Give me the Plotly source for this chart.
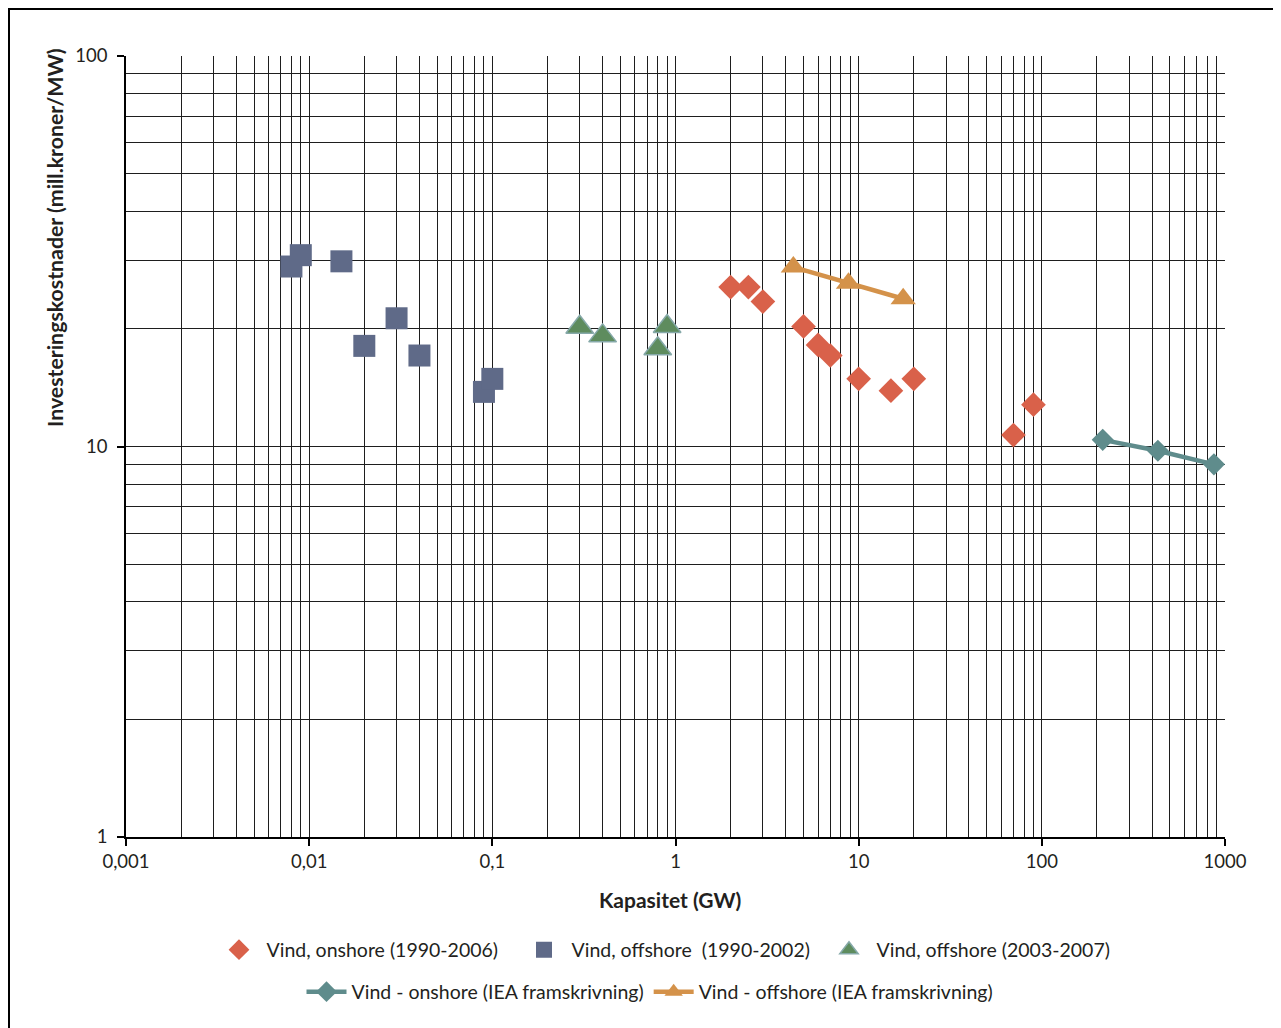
import plotly.graph_objects as go

# ---------------- data ----------------
on_hist_x = [2, 2.5, 3, 5, 6, 7, 10, 15, 20, 70, 90]
on_hist_y = [25.6, 25.6, 23.5, 20.3, 18.2, 17.1, 14.9, 13.9, 14.9, 10.7, 12.8]

off_old_x = [0.008, 0.009, 0.015, 0.02, 0.03, 0.04, 0.09, 0.1]
off_old_y = [28.9, 30.9, 29.8, 18.1, 21.3, 17.1, 13.8, 14.9]

off_new_x = [0.3, 0.4, 0.8, 0.9]
off_new_y = [20.2, 19.2, 17.8, 20.3]

iea_on_x = [215, 430, 870]
iea_on_y = [10.4, 9.75, 9.0]

iea_off_x = [4.4, 8.8, 17.5]
iea_off_y = [28.8, 26.2, 23.9]

x_tickvals = [0.001, 0.01, 0.1, 1, 10, 100, 1000]
x_ticktext = ["0,001", "0,01", "0,1", "1", "10", "100", "1000"]
y_tickvals = [1, 10, 100]
y_ticktext = ["1", "10", "100"]

names = [
    "Vind, onshore (1990-2006)",
    "Vind, offshore  (1990-2002)",
    "Vind, offshore (2003-2007)",
    "Vind - onshore (IEA framskrivning)",
    "Vind - offshore (IEA framskrivning)",
]

FONT = "Lato"
TXT = "#231F20"
GRID = "#1e1e1e"

# minor grid positions (2..9 per decade)
x_minor = [m * 10 ** k for k in range(-3, 3) for m in range(2, 10)]
y_minor = [m * 10 ** k for k in range(0, 2) for m in range(2, 10)]

fig = go.Figure()
fig.add_trace(go.Scatter(x=on_hist_x, y=on_hist_y, mode="markers", name=names[0],
                         marker=dict(symbol="diamond", size=19, color="#D9614A"),
                         legend="legend"))
fig.add_trace(go.Scatter(x=off_old_x, y=off_old_y, mode="markers", name=names[1],
                         marker=dict(symbol="square", size=22, color="#5F6A88"),
                         legend="legend"))
fig.add_trace(go.Scatter(x=off_new_x, y=off_new_y, mode="markers", name=names[2],
                         marker=dict(symbol="triangle-up", size=24, color="#5E8C5E",
                                     line=dict(color="#86A9A9", width=1.5)),
                         legend="legend"))
fig.add_trace(go.Scatter(x=iea_on_x, y=iea_on_y, mode="lines+markers", name=names[3],
                         line=dict(color="#5F8C8C", width=4.5),
                         marker=dict(symbol="diamond", size=17, color="#5F8C8C"),
                         legend="legend2"))
fig.add_trace(go.Scatter(x=iea_off_x, y=iea_off_y, mode="lines+markers", name=names[4],
                         line=dict(color="#D4924A", width=4.5),
                         marker=dict(symbol="triangle-up", size=22, color="#D4924A"),
                         legend="legend2"))

W, H = 1281, 1028
OFF = 8  # page offset of the figure
L, R, T, B = 118, 64, 48, 199
pw, ph = W - L - R, H - T - B


def px_x(p):
    return (p - OFF - L) / pw


def px_y(p):
    return (H - B - (p - OFF)) / ph


axis_common = dict(
    type="log",
    showline=True, linecolor="#000000", linewidth=1.5,
    ticks="outside", ticklen=7, tickcolor="#000000", tickwidth=1.5,
    showgrid=True, gridcolor=GRID, gridwidth=1,
    zeroline=False,
    tickfont=dict(family=FONT, size=18.5, color=TXT),
    mirror=False,
)

fig.update_xaxes(**axis_common, range=[-3, 3], tickmode="array",
                 tickvals=x_tickvals, ticktext=x_ticktext,
                 minor=dict(tickmode="array", tickvals=x_minor, showgrid=True,
                            gridcolor=GRID, gridwidth=1, ticks=""))
fig.update_yaxes(**axis_common, range=[0, 2], tickmode="array",
                 tickvals=y_tickvals, ticktext=y_ticktext, ticklabelstandoff=6,
                 minor=dict(tickmode="array", tickvals=y_minor, showgrid=True,
                            gridcolor=GRID, gridwidth=1, ticks=""))

fig.update_layout(
    width=W, height=H,
    margin=dict(l=L, r=R, t=T, b=B),
    paper_bgcolor="white", plot_bgcolor="white",
    font=dict(family=FONT, size=18, color=TXT),
    legend=dict(orientation="h", x=px_x(669), xanchor="center", y=px_y(950), yanchor="middle",
                font=dict(family=FONT, size=19.5, color=TXT), bgcolor="rgba(0,0,0,0)",
                entrywidth=245, entrywidthmode="pixels", itemwidth=45),
    legend2=dict(orientation="h", x=px_x(650), xanchor="center", y=px_y(992), yanchor="middle",
                 font=dict(family=FONT, size=19.5, color=TXT), bgcolor="rgba(0,0,0,0)",
                 itemwidth=40),
    annotations=[
        dict(text="<b>Investeringskostnader (mill.kroner/MW)</b>", xref="paper", yref="paper",
             x=px_x(55), y=px_y(238), textangle=-90, showarrow=False,
             font=dict(family=FONT, size=21.3, color=TXT), xanchor="center", yanchor="middle"),
        dict(text="<b>Kapasitet (GW)</b>", xref="paper", yref="paper",
             x=px_x(670), y=px_y(900), showarrow=False,
             font=dict(family=FONT, size=21, color=TXT), xanchor="center", yanchor="middle"),
    ],
    shapes=[
        dict(type="rect", xref="paper", yref="paper",
             x0=px_x(9), x1=px_x(1275), y0=px_y(1040), y1=px_y(9),
             line=dict(color="#000000", width=2), fillcolor="rgba(0,0,0,0)", layer="above"),
    ],
)

fig.write_html("out.html")
